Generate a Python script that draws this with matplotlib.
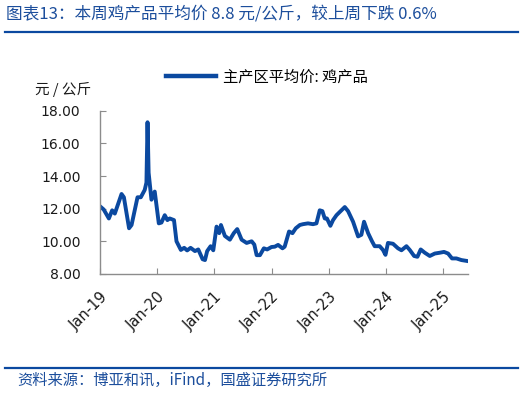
import matplotlib
matplotlib.use("Agg")
import matplotlib.pyplot as plt
import pandas as pd
from matplotlib.lines import Line2D

plt.rcParams["font.family"] = ["DejaVu Sans", "Noto Sans CJK SC"]

# weekly-ish samples
dates = [
    "2019-01-07", "2019-01-25", "2019-02-27", "2019-03-20", "2019-04-06", "2019-05-19",
    "2019-06-03", "2019-07-06", "2019-07-22", "2019-08-29", "2019-09-19", "2019-10-14",
    "2019-10-25", "2019-11-01", "2019-11-08", "2019-11-26", "2019-12-17", "2020-01-12",
    "2020-01-29", "2020-02-19", "2020-03-07", "2020-03-22", "2020-04-18", "2020-05-04",
    "2020-06-01", "2020-06-22", "2020-07-11", "2020-08-02", "2020-08-30", "2020-09-20",
    "2020-10-18", "2020-11-02", "2020-11-16", "2020-12-08", "2020-12-25", "2021-01-15",
    "2021-02-01", "2021-02-12", "2021-03-09", "2021-04-10", "2021-05-05", "2021-05-27",
    "2021-06-24", "2021-07-26", "2021-08-27", "2021-09-13", "2021-09-28", "2021-10-19",
    "2021-11-13", "2021-12-04", "2022-01-01", "2022-01-22", "2022-02-12", "2022-03-12",
    "2022-03-26", "2022-04-23", "2022-05-15", "2022-06-05", "2022-07-01", "2022-07-21",
    "2022-08-22", "2022-09-23", "2022-10-15", "2022-11-05", "2022-11-22", "2022-12-07",
    "2022-12-21", "2023-01-12", "2023-01-29", "2023-02-20", "2023-03-13", "2023-04-14",
    "2023-05-05", "2023-06-06", "2023-07-08", "2023-07-29", "2023-08-15", "2023-09-10",
    "2023-10-05", "2023-10-22", "2023-11-23", "2023-12-14", "2023-12-30", "2024-01-15",
    "2024-02-16", "2024-03-19", "2024-04-10", "2024-05-12", "2024-06-02", "2024-06-30",
    "2024-07-21", "2024-08-11", "2024-09-06", "2024-10-08", "2024-11-09", "2024-12-11",
    "2025-01-07", "2025-02-02", "2025-02-27", "2025-03-27", "2025-04-28", "2025-05-30",
]
prices = [
    12.10, 11.95, 11.40, 11.90, 11.70, 12.90,
    12.70, 10.80, 11.00, 12.70, 12.70, 13.15,
    13.60, 17.30, 14.20, 12.55, 13.05, 11.10,
    11.15, 11.60, 11.30, 11.40, 11.30, 10.00,
    9.47, 9.60, 9.44, 9.60, 9.40, 9.50,
    8.90, 8.85, 9.40, 9.70, 9.45, 10.90,
    10.50, 11.00, 10.33, 10.10, 10.50, 10.75,
    10.10, 9.90, 10.00, 9.80, 9.15, 9.15,
    9.57, 9.50, 9.65, 9.67, 9.78, 9.57,
    9.67, 10.60, 10.50, 10.80, 11.00, 11.05,
    11.10, 11.05, 11.10, 11.90, 11.85, 11.40,
    11.40, 10.95, 11.30, 11.60, 11.80, 12.10,
    11.85, 11.20, 10.30, 10.40, 11.20, 10.50,
    10.00, 9.70, 9.70, 9.47, 9.17, 9.90,
    9.85, 9.57, 9.45, 9.70, 9.47, 9.10,
    9.05, 9.50, 9.30, 9.10, 9.25, 9.30,
    9.35, 9.25, 8.95, 8.95, 8.85, 8.80,
]
tick_years = [2019, 2020, 2021, 2022, 2023, 2024, 2025]
y_ticks = [8, 10, 12, 14, 16, 18]

LINE_COLOR = "#0B49A0"
TEXT_BLUE = "#1C4E9C"
CJK = ["Noto Sans CJK SC", "DejaVu Sans"]

x = pd.to_datetime(dates)

fig = plt.figure(figsize=(5.26, 3.93), dpi=100)
ax = fig.add_axes([0.190, 0.303, 0.700, 0.415])
ax.plot(x, prices, color=LINE_COLOR, linewidth=2.8, solid_joinstyle="round")

ax.set_xlim(pd.Timestamp("2019-01-01"), pd.Timestamp("2025-06-10"))
ax.set_ylim(8, 18)
ax.set_yticks(y_ticks)
ax.set_yticklabels([f"{v:.2f}" for v in y_ticks])
tick_dates = [pd.Timestamp(f"{y}-01-01") for y in tick_years]
ax.set_xticks(tick_dates)
ax.set_xticklabels([f"Jan-{str(y)[2:]}" for y in tick_years], rotation=45,
                   ha="right", va="top", rotation_mode="anchor")

for side in ["top", "right"]:
    ax.spines[side].set_visible(False)
for side in ["left", "bottom"]:
    ax.spines[side].set_color("#8c8c8c")
    ax.spines[side].set_linewidth(1.0)
ax.tick_params(axis="both", direction="in", length=4, color="#8c8c8c",
               labelcolor="#1a1a1a")
ax.tick_params(axis="y", pad=14, labelsize=10)
ax.tick_params(axis="x", pad=11, labelsize=10.5)

# unit label
fig.text(35 / 526, 1 - 89 / 393, "元 / 公斤", fontsize=10.5, family=CJK,
         ha="left", va="center", color="#1a1a1a")

# legend
leg_handle = Line2D([], [], color=LINE_COLOR, linewidth=3.2)
fig.legend([leg_handle], ["主产区平均价: 鸡产品"], loc="center left",
           bbox_to_anchor=(166 / 526, 1 - 77 / 393), frameon=False,
           prop={"family": CJK, "size": 11}, handlelength=3.3,
           handletextpad=0.4, borderaxespad=0, borderpad=0)

# title and footer
fig.text(6 / 526, 1 - 14 / 393, "图表13：本周鸡产品平均价 8.8 元/公斤，较上周下跌 0.6%",
         fontsize=12, family=CJK, style="italic", color=TEXT_BLUE,
         ha="left", va="center")
fig.add_artist(Line2D([5 / 526, 518 / 526], [1 - 32 / 393, 1 - 32 / 393],
                      color=LINE_COLOR, linewidth=1.6, transform=fig.transFigure))
fig.add_artist(Line2D([5 / 526, 518 / 526], [1 - 368 / 393, 1 - 368 / 393],
                      color=LINE_COLOR, linewidth=1.6, transform=fig.transFigure))
fig.text(17 / 526, 1 - 380 / 393, "资料来源：博亚和讯，iFind，国盛证券研究所",
         fontsize=11, family=CJK, style="italic", color=TEXT_BLUE,
         ha="left", va="center")

fig.savefig("out.png", dpi=100)
